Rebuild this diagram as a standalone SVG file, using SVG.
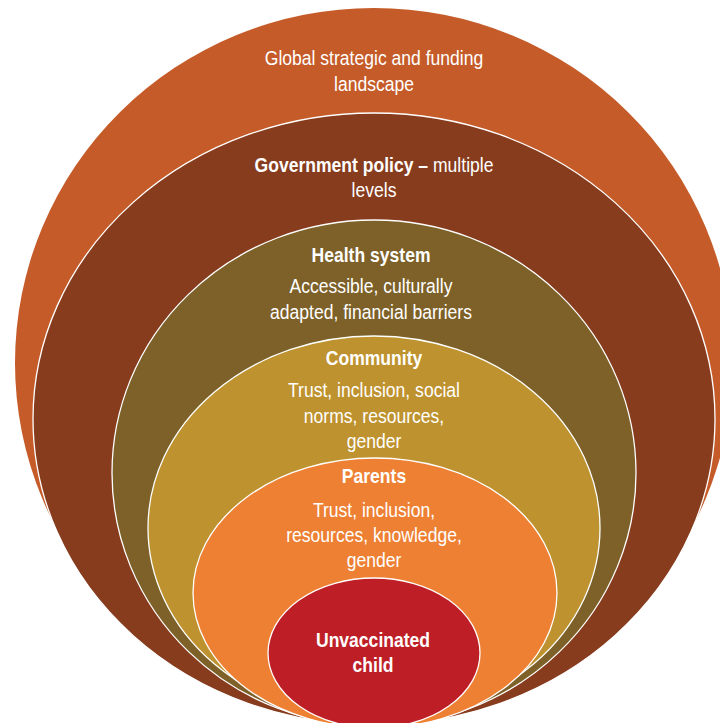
<svg xmlns="http://www.w3.org/2000/svg" width="720" height="723" viewBox="0 0 720 723">
<style>
.ring{stroke:#ffffff;stroke-width:1.3}
text{font-family:"Liberation Sans",Arial,sans-serif;font-size:19.5px;fill:#ffffff;text-anchor:middle}
.b{font-weight:bold}
</style>
<rect width="720" height="723" fill="#ffffff"/>
<g id="global">
<ellipse cx="374" cy="363" rx="359" ry="355" fill="#C55B28"/>
<g transform="translate(374 0) scale(0.9 1)">
<text x="0" y="65">Global strategic and funding</text>
<text x="0" y="91">landscape</text>
</g>
</g>
<g id="government">
<ellipse class="ring" cx="374" cy="419" rx="341" ry="306" fill="#873C1E"/>
<g transform="translate(374 0) scale(0.9 1)">
<text x="0" y="172"><tspan class="b">Government policy –</tspan> multiple</text>
<text x="0" y="197">levels</text>
</g>
</g>
<g id="health-system">
<ellipse class="ring" cx="374" cy="473" rx="262" ry="253" fill="#7D6129"/>
<g transform="translate(371 0) scale(0.9 1)">
<text x="0" y="262" class="b">Health system</text>
<text x="0" y="293">Accessible, culturally</text>
<text x="0" y="319">adapted, financial barriers</text>
</g>
</g>
<g id="community">
<ellipse class="ring" cx="374" cy="528" rx="226" ry="192" fill="#BE922E"/>
<g transform="translate(374 0) scale(0.9 1)">
<text x="0" y="365" class="b">Community</text>
<text x="0" y="397">Trust, inclusion, social</text>
<text x="0" y="423">norms, resources,</text>
<text x="0" y="448">gender</text>
</g>
</g>
<g id="parents">
<ellipse class="ring" cx="375" cy="593" rx="182" ry="135" fill="#EE8033"/>
<g transform="translate(374 0) scale(0.9 1)">
<text x="0" y="483" class="b">Parents</text>
<text x="0" y="517">Trust, inclusion,</text>
<text x="0" y="542">resources, knowledge,</text>
<text x="0" y="567">gender</text>
</g>
</g>
<g id="child">
<ellipse class="ring" cx="374" cy="653" rx="106" ry="75" fill="#BE1E26"/>
<g transform="translate(373 0) scale(0.9 1)">
<text x="0" y="647" class="b">Unvaccinated</text>
<text x="0" y="672" class="b">child</text>
</g>
</g>
</svg>
